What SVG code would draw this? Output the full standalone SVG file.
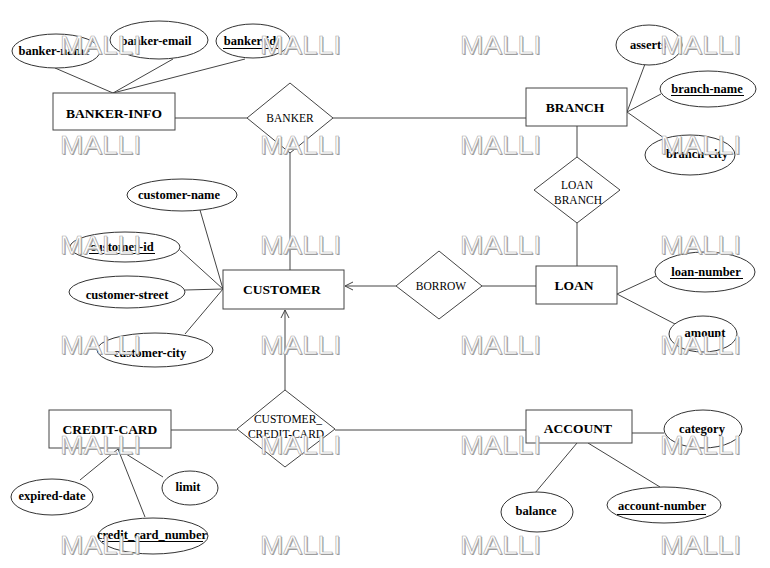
<svg xmlns="http://www.w3.org/2000/svg" width="770" height="568" viewBox="0 0 770 568">
<style>
.ln{stroke:#444;stroke-width:1;fill:none}
.ent{fill:#fff;stroke:#444;stroke-width:1}
.att{fill:#fff;stroke:#333;stroke-width:1}
.et{font-family:"Liberation Serif",serif;font-weight:bold;font-size:13.5px;text-anchor:middle;fill:#000}
.at{font-family:"Liberation Serif",serif;font-weight:bold;font-size:12.5px;text-anchor:middle;fill:#000}
.rt{font-family:"Liberation Serif",serif;font-size:11.5px;text-anchor:middle;fill:#000}
.ul{stroke:#000;stroke-width:1}
.wm{font-family:"Liberation Sans",sans-serif;font-size:25px;fill:#fff;stroke:#aaa;stroke-width:0.6}
.ws{font-family:"Liberation Sans",sans-serif;font-size:25px;fill:#999}
</style>
<defs>
<marker id="arr" markerWidth="10" markerHeight="10" refX="9" refY="5" orient="auto" markerUnits="userSpaceOnUse">
<path d="M1,1 L9,5 L1,9" fill="none" stroke="#444" stroke-width="1"/>
</marker>
</defs>
<rect width="770" height="568" fill="#fff"/>
<g id="connectors">
<line class="ln" x1="55" y1="68" x2="113" y2="93"/>
<line class="ln" x1="173" y1="59" x2="113" y2="93"/>
<line class="ln" x1="245" y1="59" x2="113" y2="93"/>
<line class="ln" x1="175" y1="118" x2="247" y2="118"/>
<line class="ln" x1="333" y1="118" x2="526" y2="118"/>
<line class="ln" x1="627" y1="112" x2="645" y2="64"/>
<line class="ln" x1="627" y1="112" x2="661" y2="94"/>
<line class="ln" x1="627" y1="112" x2="664" y2="138"/>
<line class="ln" x1="577" y1="126" x2="577" y2="157"/>
<line class="ln" x1="577" y1="223" x2="577" y2="266"/>
<line class="ln" x1="536" y1="286" x2="482" y2="286"/>
<line class="ln" x1="396" y1="286" x2="345" y2="286" marker-end="url(#arr)"/>
<line class="ln" x1="617" y1="294" x2="656" y2="276"/>
<line class="ln" x1="617" y1="294" x2="675" y2="324"/>
<line class="ln" x1="290" y1="153" x2="290" y2="270"/>
<line class="ln" x1="200" y1="210" x2="223" y2="289"/>
<line class="ln" x1="180" y1="250" x2="223" y2="289"/>
<line class="ln" x1="185" y1="290" x2="223" y2="289"/>
<line class="ln" x1="185" y1="334" x2="223" y2="289"/>
<line class="ln" x1="285" y1="390" x2="285" y2="310" marker-end="url(#arr)"/>
<line class="ln" x1="171" y1="430" x2="237" y2="430"/>
<line class="ln" x1="335" y1="430" x2="526" y2="430"/>
<line class="ln" x1="118" y1="449" x2="80" y2="480"/>
<line class="ln" x1="118" y1="449" x2="145" y2="517"/>
<line class="ln" x1="118" y1="449" x2="163" y2="477"/>
<line class="ln" x1="632" y1="433" x2="664" y2="433"/>
<line class="ln" x1="577" y1="443" x2="535" y2="493"/>
<line class="ln" x1="588" y1="443" x2="660" y2="487"/>
</g>
<g id="banker-info"><rect class="ent" x="53" y="93" width="122" height="37"/><text class="et" x="114" y="118">BANKER-INFO</text></g>
<g id="banker-name"><ellipse class="att" cx="56" cy="51" rx="44" ry="17"/><text class="at" x="54" y="55">banker-name</text></g>
<g id="banker-email"><ellipse class="att" cx="159" cy="40" rx="49" ry="19"/><text class="at" x="156" y="45">banker-email</text></g>
<g id="banker-id"><ellipse class="att" cx="253" cy="41" rx="37" ry="17"/><text class="at" x="250" y="45">banker-id</text><line class="ul" x1="223" y1="48.5" x2="278" y2="48.5"/></g>
<g id="banker"><polygon class="ent" points="290,83 333,118 290,153 247,118"/><text class="rt" x="290" y="122">BANKER</text></g>
<g id="branch"><rect class="ent" x="526" y="88" width="101" height="38"/><text class="et" x="575" y="112">BRANCH</text></g>
<g id="asserts"><ellipse class="att" cx="649" cy="45" rx="33" ry="20"/><text class="at" x="648" y="49">asserts</text></g>
<g id="branch-name"><ellipse class="att" cx="708" cy="89" rx="48" ry="18"/><text class="at" x="707" y="93">branch-name</text><line class="ul" x1="671" y1="95.5" x2="744" y2="95.5"/></g>
<g id="branch-city"><ellipse class="att" cx="690" cy="155" rx="45" ry="20"/><text class="at" x="697" y="158">branch-city</text></g>
<g id="loan-branch"><polygon class="ent" points="577,157 620,190 577,223 534,190"/><text class="rt" x="577" y="189">LOAN</text><text class="rt" x="578" y="204">BRANCH</text></g>
<g id="loan"><rect class="ent" x="536" y="266" width="81" height="38"/><text class="et" x="574" y="290">LOAN</text></g>
<g id="loan-number"><ellipse class="att" cx="705" cy="272" rx="50" ry="20"/><text class="at" x="706" y="276">loan-number</text><line class="ul" x1="670" y1="278.5" x2="743" y2="278.5"/></g>
<g id="amount"><ellipse class="att" cx="703" cy="334" rx="34" ry="18"/><text class="at" x="705" y="337">amount</text></g>
<g id="borrow"><polygon class="ent" points="439,251 482,286 439,319 396,286"/><text class="rt" x="441" y="290">BORROW</text></g>
<g id="customer"><rect class="ent" x="223" y="270" width="121" height="39"/><text class="et" x="282" y="294">CUSTOMER</text></g>
<g id="customer-name"><ellipse class="att" cx="182" cy="195" rx="55" ry="16"/><text class="at" x="179" y="199">customer-name</text></g>
<g id="customer-id"><ellipse class="att" cx="125" cy="247" rx="55" ry="15"/><text class="at" x="122" y="251">customer-id</text><line class="ul" x1="89" y1="253.5" x2="155" y2="253.5"/></g>
<g id="customer-street"><ellipse class="att" cx="127" cy="292" rx="58" ry="16"/><text class="at" x="127" y="299">customer-street</text></g>
<g id="customer-city"><ellipse class="att" cx="155" cy="350" rx="58" ry="17"/><text class="at" x="150" y="357">customer-city</text></g>
<g id="customer-credit-card"><polygon class="ent" points="285,390 335,429 285,467 237,429"/><text class="rt" x="288" y="423">CUSTOMER_</text><text class="rt" x="286" y="438">CREDIT-CARD</text></g>
<g id="credit-card"><rect class="ent" x="49" y="410" width="122" height="38"/><text class="et" x="110" y="434">CREDIT-CARD</text></g>
<g id="expired-date"><ellipse class="att" cx="52" cy="497" rx="41" ry="18"/><text class="at" x="52" y="500">expired-date</text></g>
<g id="limit"><ellipse class="att" cx="190" cy="488" rx="28" ry="17"/><text class="at" x="188" y="491">limit</text></g>
<g id="credit_card_number"><ellipse class="att" cx="153" cy="536" rx="55" ry="18"/><text class="at" x="152" y="539">credit_card_number</text><line class="ul" x1="102" y1="541.5" x2="203" y2="541.5"/></g>
<g id="account"><rect class="ent" x="526" y="410" width="106" height="33"/><text class="et" x="578" y="433">ACCOUNT</text></g>
<g id="category"><ellipse class="att" cx="703" cy="429" rx="39" ry="19"/><text class="at" x="702" y="433">category</text></g>
<g id="balance"><ellipse class="att" cx="537" cy="512" rx="36" ry="20"/><text class="at" x="536" y="515">balance</text></g>
<g id="account-number"><ellipse class="att" cx="664" cy="505" rx="57" ry="18"/><text class="at" x="662" y="510">account-number</text><line class="ul" x1="617" y1="514.5" x2="706" y2="514.5"/></g>
<g id="watermark">
<g class="ws">
<text x="61" y="55" textLength="81" lengthAdjust="spacingAndGlyphs">MALLI</text><text x="261" y="55" textLength="81" lengthAdjust="spacingAndGlyphs">MALLI</text><text x="461" y="55" textLength="81" lengthAdjust="spacingAndGlyphs">MALLI</text><text x="661" y="55" textLength="81" lengthAdjust="spacingAndGlyphs">MALLI</text>
<text x="61" y="155" textLength="81" lengthAdjust="spacingAndGlyphs">MALLI</text><text x="261" y="155" textLength="81" lengthAdjust="spacingAndGlyphs">MALLI</text><text x="461" y="155" textLength="81" lengthAdjust="spacingAndGlyphs">MALLI</text><text x="661" y="155" textLength="81" lengthAdjust="spacingAndGlyphs">MALLI</text>
<text x="61" y="255" textLength="81" lengthAdjust="spacingAndGlyphs">MALLI</text><text x="261" y="255" textLength="81" lengthAdjust="spacingAndGlyphs">MALLI</text><text x="461" y="255" textLength="81" lengthAdjust="spacingAndGlyphs">MALLI</text><text x="661" y="255" textLength="81" lengthAdjust="spacingAndGlyphs">MALLI</text>
<text x="61" y="355" textLength="81" lengthAdjust="spacingAndGlyphs">MALLI</text><text x="261" y="355" textLength="81" lengthAdjust="spacingAndGlyphs">MALLI</text><text x="461" y="355" textLength="81" lengthAdjust="spacingAndGlyphs">MALLI</text><text x="661" y="355" textLength="81" lengthAdjust="spacingAndGlyphs">MALLI</text>
<text x="61" y="455" textLength="81" lengthAdjust="spacingAndGlyphs">MALLI</text><text x="261" y="455" textLength="81" lengthAdjust="spacingAndGlyphs">MALLI</text><text x="461" y="455" textLength="81" lengthAdjust="spacingAndGlyphs">MALLI</text><text x="661" y="455" textLength="81" lengthAdjust="spacingAndGlyphs">MALLI</text>
<text x="61" y="555" textLength="81" lengthAdjust="spacingAndGlyphs">MALLI</text><text x="261" y="555" textLength="81" lengthAdjust="spacingAndGlyphs">MALLI</text><text x="461" y="555" textLength="81" lengthAdjust="spacingAndGlyphs">MALLI</text><text x="661" y="555" textLength="81" lengthAdjust="spacingAndGlyphs">MALLI</text>
</g>
<g class="wm">
<text x="60" y="54" textLength="81" lengthAdjust="spacingAndGlyphs">MALLI</text><text x="260" y="54" textLength="81" lengthAdjust="spacingAndGlyphs">MALLI</text><text x="460" y="54" textLength="81" lengthAdjust="spacingAndGlyphs">MALLI</text><text x="660" y="54" textLength="81" lengthAdjust="spacingAndGlyphs">MALLI</text>
<text x="60" y="154" textLength="81" lengthAdjust="spacingAndGlyphs">MALLI</text><text x="260" y="154" textLength="81" lengthAdjust="spacingAndGlyphs">MALLI</text><text x="460" y="154" textLength="81" lengthAdjust="spacingAndGlyphs">MALLI</text><text x="660" y="154" textLength="81" lengthAdjust="spacingAndGlyphs">MALLI</text>
<text x="60" y="254" textLength="81" lengthAdjust="spacingAndGlyphs">MALLI</text><text x="260" y="254" textLength="81" lengthAdjust="spacingAndGlyphs">MALLI</text><text x="460" y="254" textLength="81" lengthAdjust="spacingAndGlyphs">MALLI</text><text x="660" y="254" textLength="81" lengthAdjust="spacingAndGlyphs">MALLI</text>
<text x="60" y="354" textLength="81" lengthAdjust="spacingAndGlyphs">MALLI</text><text x="260" y="354" textLength="81" lengthAdjust="spacingAndGlyphs">MALLI</text><text x="460" y="354" textLength="81" lengthAdjust="spacingAndGlyphs">MALLI</text><text x="660" y="354" textLength="81" lengthAdjust="spacingAndGlyphs">MALLI</text>
<text x="60" y="454" textLength="81" lengthAdjust="spacingAndGlyphs">MALLI</text><text x="260" y="454" textLength="81" lengthAdjust="spacingAndGlyphs">MALLI</text><text x="460" y="454" textLength="81" lengthAdjust="spacingAndGlyphs">MALLI</text><text x="660" y="454" textLength="81" lengthAdjust="spacingAndGlyphs">MALLI</text>
<text x="60" y="554" textLength="81" lengthAdjust="spacingAndGlyphs">MALLI</text><text x="260" y="554" textLength="81" lengthAdjust="spacingAndGlyphs">MALLI</text><text x="460" y="554" textLength="81" lengthAdjust="spacingAndGlyphs">MALLI</text><text x="660" y="554" textLength="81" lengthAdjust="spacingAndGlyphs">MALLI</text>
</g>
</g>
</svg>
